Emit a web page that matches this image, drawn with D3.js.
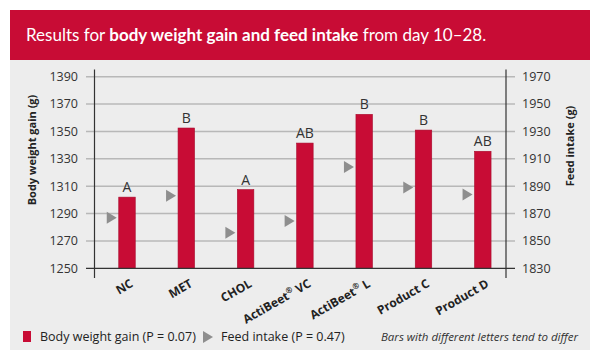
<!DOCTYPE html>
<html><head><meta charset="utf-8">
<script src="https://cdn.jsdelivr.net/npm/d3@7"></script>
<style>
body{margin:0;background:#fff;}
svg{display:block;font-family:"Open Sans",sans-serif;}
</style></head>
<body><svg id="c" width="600" height="356"></svg>
<script>
const categories = ["NC","MET","CHOL","ActiBeet® VC","ActiBeet® L","Product C","Product D"];
const weightGain = [1302, 1352.5, 1307.5, 1341.5, 1362.5, 1351, 1335.5];
const feedIntake = [1867, 1883, 1856, 1864.5, 1904, 1889, 1884];
const letters = ["A","B","A","AB","B","B","AB"];
const leftTicks = [1250,1270,1290,1310,1330,1350,1370,1390];
const rightTicks = [1830,1850,1870,1890,1910,1930,1950,1970];

const RED = "#c80c35", GRAY = "#8e8e8e";
const svg = d3.select("#c");

// title bar & panel
svg.append("rect").attr("x",10).attr("y",60).attr("width",580).attr("height",290).attr("fill","#ededed");
svg.append("rect").attr("x",10).attr("y",10).attr("width",580).attr("height",50).attr("fill",RED);
const t = svg.append("text").attr("x",26).attr("y",41).attr("fill","#fff").attr("font-size",17)
  .attr("font-family","Lato, sans-serif");
t.append("tspan").text("Results for ");
t.append("tspan").attr("font-weight","bold").text("body weight gain and feed intake");
t.append("tspan").text(" from day 10–28.");

const x0 = 94.5, x1 = 506;
const yTop = 76.7, yBot = 268.3;
const x = d3.scalePoint().domain(categories).range([127, 482.8]);
const yL = d3.scaleLinear().domain([1250,1390]).range([yBot,yTop]);
const yR = d3.scaleLinear().domain([1830,1970]).range([yBot,yTop]);

// gridlines + ticks
svg.append("g").selectAll("line").data(leftTicks.slice(1)).join("line")
  .attr("x1",86).attr("x2",515).attr("y1",d=>yL(d)).attr("y2",d=>yL(d))
  .attr("stroke","#b8b8b8").attr("stroke-width",1.4);

// axis labels
svg.append("g").selectAll("text").data(leftTicks).join("text")
  .attr("x",78).attr("y",d=>yL(d)).attr("dy","0.35em").attr("text-anchor","end")
  .attr("font-size",12.5).attr("fill","#333").text(d=>d);
svg.append("g").selectAll("text").data(rightTicks).join("text")
  .attr("x",522).attr("y",d=>yR(d)).attr("dy","0.35em").attr("text-anchor","start")
  .attr("font-size",12.5).attr("fill","#333").text(d=>d);

// axis titles
svg.append("text").attr("transform","translate(36,150) rotate(-90)").attr("text-anchor","middle")
  .attr("font-size",11).attr("font-weight","bold").attr("fill","#222").text("Body weight gain (g)");
svg.append("text").attr("transform","translate(574,146) rotate(-90)").attr("text-anchor","middle")
  .attr("font-size",11).attr("font-weight","bold").attr("fill","#222").text("Feed intake (g)");

// bars
const bw = 16.5;
svg.append("g").selectAll("rect").data(categories).join("rect")
  .attr("x",(d)=>x(d)-bw/2).attr("width",bw)
  .attr("y",(d,i)=>yL(weightGain[i])).attr("height",(d,i)=>yBot-yL(weightGain[i]))
  .attr("fill",RED).attr("stroke","#a80a2c").attr("stroke-width",0.6);

// letters
svg.append("g").selectAll("text").data(categories).join("text")
  .attr("x",d=>x(d)).attr("y",(d,i)=>yL(weightGain[i])-5).attr("text-anchor","middle")
  .attr("font-size",14).attr("fill","#333").text((d,i)=>letters[i]);

// triangles
svg.append("g").selectAll("path").data(categories).join("path")
  .attr("d",(d,i)=>{const cx=x(d)-bw/2-2, cy=yR(feedIntake[i]);return `M${cx-10},${cy-6}L${cx},${cy}L${cx-10},${cy+6}Z`;})
  .attr("fill",GRAY);

// axes lines
svg.append("line").attr("x1",x0).attr("x2",x0).attr("y1",69.5).attr("y2",278).attr("stroke","#333").attr("stroke-width",1.2);
svg.append("line").attr("x1",x1).attr("x2",x1).attr("y1",69.5).attr("y2",278).attr("stroke","#333").attr("stroke-width",1.2);
svg.append("line").attr("x1",86).attr("x2",515).attr("y1",yBot).attr("y2",yBot).attr("stroke","#333").attr("stroke-width",1.2);

// x labels
const xl = svg.append("g").selectAll("text").data(categories).join("text")
  .attr("transform",d=>`translate(${x(d)+7},286) rotate(-30)`).attr("text-anchor","end")
  .attr("font-size",12).attr("font-weight","bold").attr("fill","#222");
xl.each(function(d){
  const el=d3.select(this);
  if(d.includes("®")){
    const parts=d.split("®");
    el.append("tspan").text(parts[0]);
    el.append("tspan").attr("font-size",8).attr("dy",-5).text("®");
    el.append("tspan").attr("dy",5).text(parts[1]);
  } else el.text(d);
});

// legend
const ly = 337;
svg.append("rect").attr("x",23).attr("y",ly-6).attr("width",8).attr("height",11).attr("fill",RED);
svg.append("text").attr("x",40).attr("y",ly).attr("dy","0.35em").attr("font-size",12.5).attr("fill","#222").text("Body weight gain (P = 0.07)");
svg.append("path").attr("d",`M203,${ly-6}L213,${ly}L203,${ly+6}Z`).attr("fill",GRAY);
svg.append("text").attr("x",221).attr("y",ly).attr("dy","0.35em").attr("font-size",12.5).attr("fill","#222").text("Feed intake (P = 0.47)");
svg.append("text").attr("x",578).attr("y",ly).attr("dy","0.35em").attr("text-anchor","end").attr("font-style","italic").attr("font-size",11.5).attr("fill","#333").text("Bars with different letters tend to differ");
</script></body></html>
